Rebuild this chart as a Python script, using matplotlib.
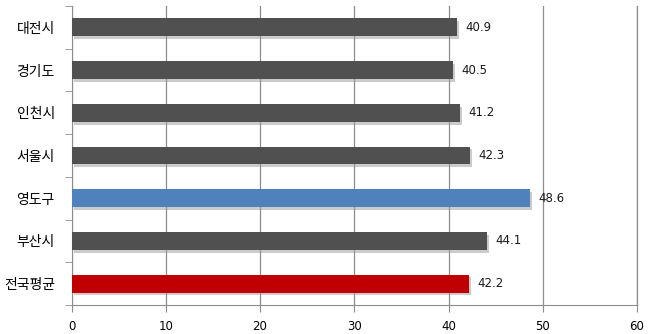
import matplotlib
matplotlib.use("Agg")
import matplotlib.pyplot as plt
import matplotlib.patheffects as pe
import numpy as np

plt.rcParams['font.family'] = ['Noto Sans CJK KR', 'DejaVu Sans']

# 데이터 (위에서 아래 순서)
regions = ["대전시", "경기도", "인천시", "서울시", "영도구", "부산시", "전국평균"]
values = [40.9, 40.5, 41.2, 42.3, 48.6, 44.1, 42.2]
bar_colors = ["#505050", "#505050", "#505050", "#505050", "#4f81bd", "#505050", "#c00000"]

fig = plt.figure(figsize=(6.53, 3.34), dpi=100)
ax = fig.add_axes([0.1095, 0.087, 0.866, 0.895])

y = np.arange(len(regions))[::-1]
bars = ax.barh(y, values, height=0.42, color=bar_colors, zorder=3)
for b in bars:
    b.set_path_effects([pe.SimplePatchShadow(offset=(1.5, -2), shadow_rgbFace="#999999", alpha=0.5),
                        pe.Normal()])

for yi, v in zip(y, values):
    ax.text(v + 0.9, yi, f"{v}", va="center", ha="left", fontsize=8.5,
            family="DejaVu Sans", color="#1a1a1a")

ax.set_xlim(0, 60)
ax.set_ylim(-0.5, len(regions) - 0.5)
ax.set_xticks(np.arange(0, 61, 10))
ax.xaxis.grid(True, color="#8c8c8c", linewidth=0.9, zorder=0)
ax.axvline(60, color="#8c8c8c", linewidth=0.9, zorder=0, clip_on=False)

ax.set_yticks(y)
ax.set_yticklabels(regions, fontsize=10)
ax.set_yticks(np.arange(-0.5, len(regions), 1), minor=True)
ax.tick_params(axis="y", which="major", length=0, pad=12)
ax.tick_params(axis="y", which="minor", length=5, color="#8c8c8c")
ax.tick_params(axis="x", length=5, color="#8c8c8c", labelsize=8.5, pad=6)
for lab in ax.get_xticklabels():
    lab.set_family("DejaVu Sans")

for s in ["top", "right"]:
    ax.spines[s].set_visible(False)
for s in ["left", "bottom"]:
    ax.spines[s].set_color("#8c8c8c")

fig.savefig("out.png", dpi=100)
